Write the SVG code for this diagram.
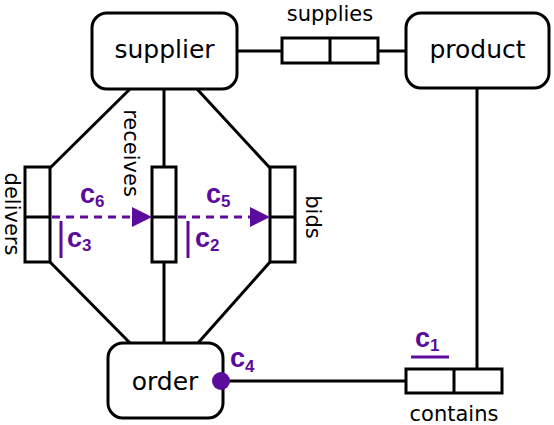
<svg xmlns="http://www.w3.org/2000/svg" width="554" height="425" viewBox="0 0 554 425">
<style>
.ent{fill:#fff;stroke:#000;stroke-width:3}
.rel{fill:#fff;stroke:#000;stroke-width:3}
.ln{stroke:#000;stroke-width:3;fill:none}
.t1{font-family:"DejaVu Sans",sans-serif;font-size:25px;fill:#000;text-anchor:middle}
.t2{font-family:"DejaVu Sans",sans-serif;font-size:21px;fill:#000;text-anchor:middle}
.c{font-family:"Liberation Sans",Arial,sans-serif;font-weight:bold;font-size:27px;fill:#5c0c9c}
.sub{font-size:17px}
.dash{stroke:#5c0c9c;stroke-width:3;stroke-dasharray:8 6;fill:none}
.bar{stroke:#5c0c9c;stroke-width:3;fill:none}
</style>
<g id="connectors">
<line class="ln" x1="237" y1="51" x2="282" y2="51"/>
<line class="ln" x1="378" y1="51" x2="406" y2="51"/>
<line class="ln" x1="477" y1="88" x2="477" y2="369"/>
<line class="ln" x1="221" y1="381" x2="406" y2="381"/>
<line class="ln" x1="130" y1="89" x2="50" y2="168"/>
<line class="ln" x1="164" y1="89" x2="164" y2="167"/>
<line class="ln" x1="197" y1="89" x2="270" y2="168"/>
<line class="ln" x1="50" y1="262" x2="130" y2="343"/>
<line class="ln" x1="164" y1="262" x2="164" y2="343"/>
<line class="ln" x1="270" y1="262" x2="198" y2="343"/>
</g>
<g id="supplier">
<rect class="ent" x="92" y="13" width="145" height="76" rx="15"/>
<text class="t1" x="164.5" y="58">supplier</text>
</g>
<g id="product">
<rect class="ent" x="406" y="13" width="143" height="75" rx="15"/>
<text class="t1" x="477.5" y="58">product</text>
</g>
<g id="order">
<rect class="ent" x="108" y="343" width="115" height="75" rx="15"/>
<text class="t1" x="165" y="390">order</text>
</g>
<g id="supplies">
<rect class="rel" x="282" y="38" width="96" height="25"/>
<line class="ln" x1="330" y1="38" x2="330" y2="63"/>
<text class="t2" x="330" y="21">supplies</text>
</g>
<g id="contains">
<rect class="rel" x="406" y="369" width="96" height="24"/>
<line class="ln" x1="454" y1="369" x2="454" y2="393"/>
<text class="t2" x="454" y="421">contains</text>
</g>
<g id="delivers">
<rect class="rel" x="25" y="167" width="25" height="95"/>
<line class="ln" x1="25" y1="217" x2="50" y2="217"/>
<text class="t2" transform="translate(5,214) rotate(90)">delivers</text>
</g>
<g id="receives">
<rect class="rel" x="152" y="167" width="24" height="95"/>
<line class="ln" x1="152" y1="217" x2="176" y2="217"/>
<text class="t2" transform="translate(124,153) rotate(90)">receives</text>
</g>
<g id="bids">
<rect class="rel" x="270" y="167" width="25" height="95"/>
<line class="ln" x1="270" y1="217" x2="295" y2="217"/>
<text class="t2" transform="translate(306,217) rotate(90)">bids</text>
</g>
<g id="constraints">
<line class="dash" x1="52" y1="217" x2="132" y2="217"/>
<polygon points="132,207 152,217 132,227" fill="#5c0c9c"/>
<line class="dash" x1="178" y1="217" x2="250" y2="217"/>
<polygon points="250,207 270,217 250,227" fill="#5c0c9c"/>
<text class="c" x="80" y="203">c<tspan class="sub" dy="4">6</tspan></text>
<text class="c" x="206" y="203">c<tspan class="sub" dy="4">5</tspan></text>
<line class="bar" x1="61" y1="221" x2="61" y2="258"/>
<text class="c" x="67" y="247">c<tspan class="sub" dy="4">3</tspan></text>
<line class="bar" x1="188" y1="221" x2="188" y2="258"/>
<text class="c" x="195" y="247">c<tspan class="sub" dy="4">2</tspan></text>
<text class="c" x="415" y="347">c<tspan class="sub" dy="4">1</tspan></text>
<line class="bar" x1="411" y1="357" x2="449" y2="357"/>
<circle cx="221" cy="381" r="9" fill="#5c0c9c"/>
<text class="c" x="230" y="367">c<tspan class="sub" dy="5">4</tspan></text>
</g>
</svg>
